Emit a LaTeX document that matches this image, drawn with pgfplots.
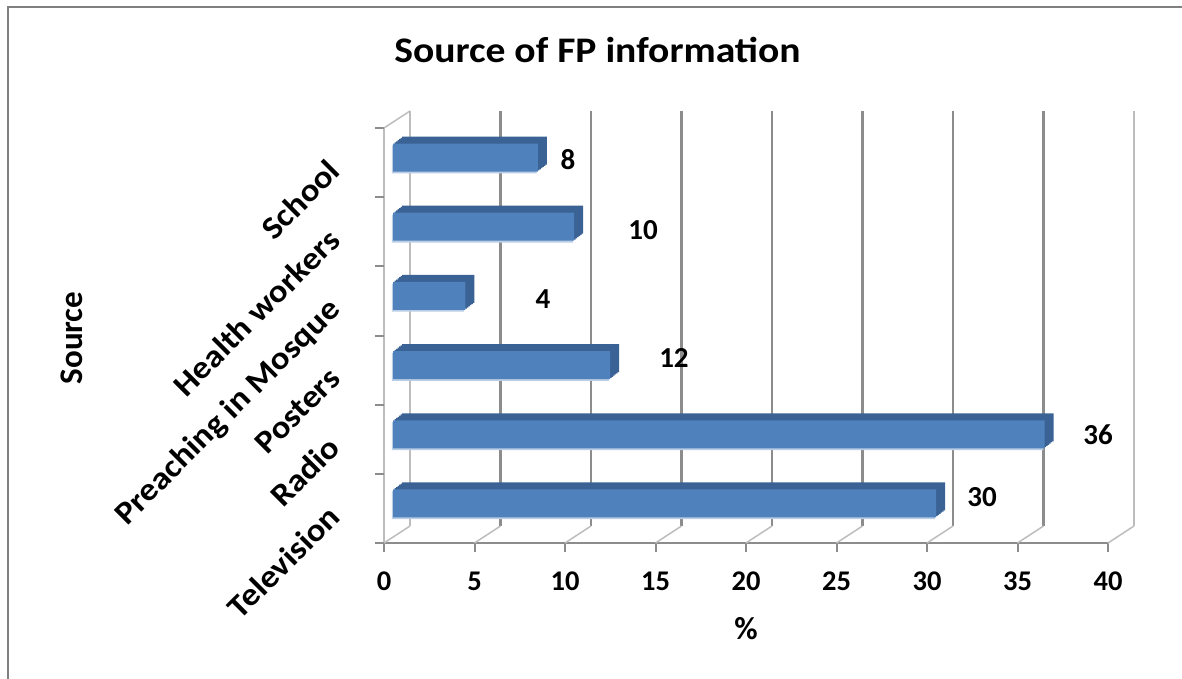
\documentclass[border=0pt]{standalone}
\usepackage{fontspec}
\setmainfont{Carlito}
\usepackage{pgfplots}
\usepackage{pgfplotstable}
\pgfplotsset{compat=1.18}
\definecolor{barfront}{HTML}{4F81BD}
\definecolor{bartop}{HTML}{3A6294}
\definecolor{baredge}{HTML}{B9CDE5}
\definecolor{gridc}{HTML}{8C8C8C}
\definecolor{gridl}{HTML}{BDBDBD}
\definecolor{framec}{HTML}{808080}

\pgfplotstableread{
y val
0 30
1 36
2 12
3 4
4 10
5 8
}\datatable

\pgfplotstableread{
lx ly val
33.04 0.165 30
39.45 1.06 36
16.02 2.17 12
8.78 3.03 4
14.31 4.03 10
10.17 5.05 8
}\labeltable

\begin{document}
\begin{tikzpicture}[x=1pt,y=1pt]
\useasboundingbox (0,0) rectangle (1182,678);
\draw[framec, line width=2pt] (7.5,-10) -- (7.5,670.5) -- (1195,670.5);
\node[font=\bfseries\fontsize{36}{40}\selectfont, anchor=base, xscale=1.1, inner sep=0pt] at (597.5,615) {Source of FP information};
\begin{axis}[
  at={(384pt,135pt)}, anchor=south west, scale only axis,
  width=724pt, height=415pt,
  xmin=0, xmax=40, ymin=-0.5, ymax=5.5, clip=false,
  axis x line*=bottom, axis y line*=left,
  x axis line style={gridc, line width=2pt},
  y axis line style={gridl, line width=1.5pt},
  tick align=outside, major tick length=9pt,
  xtick={0,5,...,40},
  x tick style={gridc, line width=2pt},
  ytick={0,...,5},
  yticklabels={Television,Radio,Posters,Preaching in Mosque,Health workers,School},
  y tick style={draw=none},
  extra y ticks={-0.5,0.5,1.5,2.5,3.5,4.5,5.5},
  extra y tick labels={},
  extra y tick style={y tick style={draw=gridc, line width=2pt}},
  /pgf/number format/assume math mode=true,
  xticklabel style={font=\bfseries\fontsize{28.5}{30}\selectfont, inner sep=0pt, anchor=north, yshift=-20pt},
  yticklabel style={font=\bfseries\fontsize{32}{33}\selectfont, inner sep=0pt, anchor=base east, xshift=-33pt, yshift=-10.5pt, rotate=45, xscale=1.09},
  xlabel={\%},
  xlabel style={font=\bfseries\fontsize{32}{34}\selectfont, at={(axis description cs:0.5,-0.207)}, anchor=center, inner sep=0pt},
  ylabel={Source},
  ylabel style={font=\bfseries\fontsize{33}{34}\selectfont, at={(axis description cs:-0.431,0.494)}, anchor=center, inner sep=0pt},
]
% back wall grid lines
\pgfplotsinvokeforeach{5,10,15,20,25,30,35}{
  \draw[gridc, line width=2.2pt] ([xshift=26pt,yshift=17pt]axis cs:#1,-0.5) -- ([xshift=26pt,yshift=17pt]axis cs:#1,5.5);
}
\draw[gridl, line width=1.8pt] ([xshift=26pt,yshift=17pt]axis cs:0,-0.5) -- ([xshift=26pt,yshift=17pt]axis cs:0,5.5);
\draw[gridl, line width=1.8pt] ([xshift=26pt,yshift=17pt]axis cs:40,-0.5) -- ([xshift=26pt,yshift=17pt]axis cs:40,5.5);
% floor diagonals
\pgfplotsinvokeforeach{0,5,10,15,20,25,30,35,40}{
  \draw[gridl, line width=1.5pt] (axis cs:#1,-0.5) -- ([xshift=26pt,yshift=17pt]axis cs:#1,-0.5);
}
\draw[gridl, line width=1.5pt] (axis cs:0,5.5) -- ([xshift=26pt,yshift=17pt]axis cs:0,5.5);
% bar depth (extrusion drawn as shifted copies of the same bars)
\addplot[xbar, bar width=28pt, fill=bartop, draw=none, xshift=18pt, yshift=12pt] table[x=val,y=y]{\datatable};
\addplot[xbar, bar width=28pt, fill=bartop, draw=none, xshift=16.5pt, yshift=10.83pt] table[x=val,y=y]{\datatable};
\addplot[xbar, bar width=28pt, fill=bartop, draw=none, xshift=15pt, yshift=9.67pt] table[x=val,y=y]{\datatable};
\addplot[xbar, bar width=28pt, fill=bartop, draw=none, xshift=13.5pt, yshift=8.5pt] table[x=val,y=y]{\datatable};
\addplot[xbar, bar width=28pt, fill=bartop, draw=none, xshift=12pt, yshift=7.33pt] table[x=val,y=y]{\datatable};
\addplot[xbar, bar width=28pt, fill=bartop, draw=none, xshift=10.5pt, yshift=6.17pt] table[x=val,y=y]{\datatable};
% light lower-left edge
\addplot[xbar, bar width=28pt, fill=baredge, draw=none, xshift=7.8pt, yshift=3.2pt] table[x=val,y=y]{\datatable};
% bar front
\addplot[xbar, bar width=28pt, fill=barfront, draw=none, xshift=9pt, yshift=5pt] table[x=val,y=y]{\datatable};
% value labels
\addplot[only marks, mark=none, nodes near coords, point meta=explicit symbolic,
  every node near coord/.style={anchor=center, inner sep=0pt, font=\bfseries\fontsize{29}{30}\selectfont}]
  table[x=lx,y=ly,meta=val]{\labeltable};
\end{axis}
\end{tikzpicture}
\end{document}
